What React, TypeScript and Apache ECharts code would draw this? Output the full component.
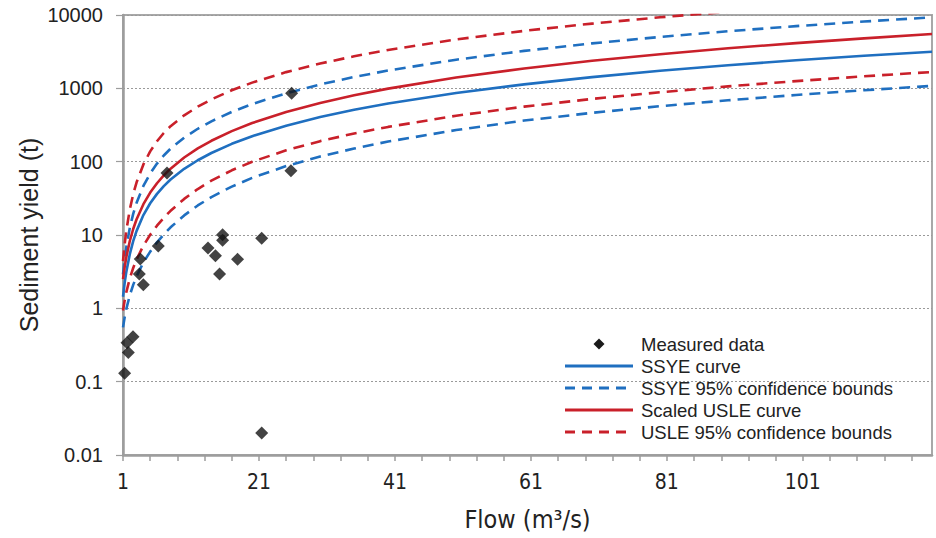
import React, { useEffect, useRef } from "react";
import * as echarts from "echarts";

// Measured data (flow m3/s, sediment yield t)
const MEASURED_FLOW = [1.24, 1.78, 1.59, 2.47, 3.4, 3.54, 3.99, 6.19, 7.47, 13.5, 14.6, 15.2, 15.65, 15.65, 17.85, 21.4, 21.4, 25.7, 25.8];
const MEASURED_YIELD = [0.13, 0.25, 0.34, 0.41, 2.94, 4.7, 2.1, 7.1, 70, 6.65, 5.2, 2.94, 10.1, 8.5, 4.66, 9.0, 0.02, 75, 855];

// Curves read along flow
const CURVE_FLOW = [1, 1.25, 1.5, 2, 2.5, 3, 4, 5, 6, 7, 8, 10, 12, 14, 17, 20, 25, 30, 35, 40, 50, 60, 70, 80, 90, 100, 110, 120];
const SSYE = [1.44, 2.24, 3.19, 5.48, 8.23, 11.38, 18.68, 27.09, 36.38, 46.41, 57.05, 79.83, 104.6, 131.3, 175.1, 222.7, 309.8, 405.9, 509.9, 621.4, 864.5, 1132, 1422, 1733, 2063, 2412, 2776, 3158];
const SSYE_UPPER = [2.91, 4.73, 6.95, 12.51, 19.41, 27.49, 46.65, 69.08, 94.18, 121.5, 150.5, 212.9, 280.8, 355.0, 476.9, 610.5, 857.0, 1131, 1429, 1751, 2458, 3243, 4099, 5021, 6004, 7049, 8148, 9300];
const SSYE_LOWER = [0.55, 0.759, 0.989, 1.506, 2.09, 2.737, 4.215, 5.932, 7.93, 10.19, 12.72, 18.5, 25.27, 32.93, 45.73, 60.06, 87.0, 117.4, 151.1, 188.0, 270.0, 363.5, 463.1, 571, 687, 811, 941, 1079];
const USLE = [2.5, 3.69, 5.06, 8.28, 12.07, 16.37, 26.33, 37.86, 50.81, 65.02, 80.33, 114.0, 151.5, 192.7, 260.9, 336.1, 476.1, 632.7, 804.7, 991.1, 1404, 1866, 2373, 2922, 3512, 4140, 4803, 5501];
const USLE_UPPER = [4.39, 7.58, 11.65, 22.31, 35.99, 52.34, 91.7, 138.1, 190.0, 245.8, 304.7, 428.6, 561.6, 705.3, 940.2, 1196, 1664, 2179, 2737, 3336, 4641, 6077, 7636, 9304, 11075];
const USLE_LOWER = [0.933, 1.29, 1.68, 2.557, 3.551, 4.649, 7.158, 10.07, 13.41, 17.19, 21.39, 31.05, 42.33, 55.03, 76.25, 99.7, 142.8, 190.5, 242.2, 297.9, 423, 563, 717, 884, 1064, 1255, 1458, 1671];

const X_LABELS = [1, 21, 41, 61, 81, 101];
const X_TICKS = [1, 5, 9, 13, 17, 21, 25, 29, 33, 37, 41, 45, 49, 53, 57, 61, 65, 69, 73, 77, 81, 85, 89, 93, 97, 101, 105, 109, 113, 117];

const LEGEND_NAMES = ["Measured data", "SSYE curve", "SSYE 95% confidence bounds", "Scaled USLE curve", "USLE 95% confidence bounds"];
const Y_TITLE = "Sediment yield (t)";
const X_TITLE = "Flow (m³/s)";

const BLUE = "#1f6fc0";
const RED = "#c9202a";
const AXIS_GRAY = "#9d9d9d";
const NARROW = "'Liberation Sans Narrow', 'DejaVu Sans Condensed', sans-serif";
const SANS = "'Liberation Sans', Arial, sans-serif";

function pairs(xs: number[], ys: number[]) {
  return ys.map((y, i) => [xs[i], y]);
}

export default function App() {
  const ref = useRef<HTMLDivElement>(null);
  useEffect(() => {
    if (!ref.current) return;
    const chart = echarts.init(ref.current, undefined, { renderer: "svg" });
    const DASH = [11, 7];
    const lineSeries = (name: string, ys: number[], color: string, dashed: boolean) => ({
      name,
      type: "line",
      data: pairs(CURVE_FLOW, ys),
      showSymbol: false,
      symbol: "none",
      smooth: false,
      clip: true,
      silent: true,
      lineStyle: { color, width: 2.6, type: dashed ? DASH : "solid", join: "round" },
      itemStyle: { color },
      z: 2,
    });

    // legend drawn as graphic
    const lx0 = 565;
    const lx1 = 633;
    const ltx = 641;
    const ly0 = 344;
    const lstep = 22;
    const legendStyles = [
      null,
      { color: BLUE, dashed: false },
      { color: BLUE, dashed: true },
      { color: RED, dashed: false },
      { color: RED, dashed: true },
    ];
    const legendEls: any[] = [];
    LEGEND_NAMES.forEach((name, i) => {
      const y = ly0 + i * lstep;
      const st = legendStyles[i];
      if (st) {
        legendEls.push({
          type: "line",
          shape: { x1: lx0, y1: y, x2: lx1, y2: y },
          style: { stroke: st.color, lineWidth: 2.8, lineDash: st.dashed ? [10, 7] : null },
          silent: true,
        });
      } else {
        const cx = 599;
        const r = 5.5;
        legendEls.push({
          type: "polygon",
          shape: { points: [[cx, y - r], [cx + r, y], [cx, y + r], [cx - r, y]] },
          style: { fill: "#1b1b1b" },
          silent: true,
        });
      }
      legendEls.push({
        type: "text",
        x: ltx,
        y,
        style: { text: name, fontFamily: SANS, fontSize: 18.5, fill: "#222", verticalAlign: "middle", align: "left" },
        silent: true,
      });
    });
    // y axis title
    legendEls.push({
      type: "text",
      x: 29,
      y: 235,
      rotation: Math.PI / 2,
      style: { text: Y_TITLE, fontFamily: SANS, fontSize: 25, fill: "#222", align: "center", verticalAlign: "middle" },
      silent: true,
    });

    chart.setOption({
      animation: false,
      backgroundColor: "#ffffff",
      grid: {
        left: 123,
        right: 4,
        top: 15,
        bottom: 83,
        show: true,
        borderColor: "#a8a8a8",
        borderWidth: 2,
        backgroundColor: "transparent",
      },
      graphic: legendEls,
      xAxis: {
        type: "value",
        min: 1,
        max: 120,
        name: X_TITLE,
        nameLocation: "middle",
        nameGap: 52,
        nameTextStyle: { fontFamily: NARROW, fontSize: 25, color: "#222" },
        axisLine: { show: true, lineStyle: { color: AXIS_GRAY, width: 2.5 } },
        axisTick: { show: true, customValues: X_TICKS, length: 6, lineStyle: { color: AXIS_GRAY, width: 1.5 } },
        axisLabel: { customValues: X_LABELS, fontFamily: NARROW, fontSize: 21, color: "#222", margin: 16 },
        splitLine: { show: false },
      },
      yAxis: {
        type: "log",
        logBase: 10,
        min: 0.01,
        max: 10000,
        axisLine: { show: true, lineStyle: { color: AXIS_GRAY, width: 2.5 } },
        axisTick: { show: true, length: 7, lineStyle: { color: AXIS_GRAY, width: 1.2 } },
        axisLabel: {
          fontFamily: SANS,
          fontSize: 20,
          color: "#222",
          margin: 20,
          formatter: (v: number) => String(Number(v.toPrecision(6))),
        },
        splitLine: { show: true, lineStyle: { color: "#9a9a9a", width: 1, type: [2, 2] } },
      },
      series: [
        {
          name: "Measured data",
          type: "scatter",
          data: pairs(MEASURED_FLOW, MEASURED_YIELD),
          symbol: "diamond",
          symbolSize: 13,
          itemStyle: { color: "#141414" },
          z: 5,
        },
        lineSeries("SSYE curve", SSYE, BLUE, false),
        lineSeries("SSYE 95% confidence bounds", SSYE_UPPER, BLUE, true),
        lineSeries("SSYE 95% confidence bounds", SSYE_LOWER, BLUE, true),
        lineSeries("Scaled USLE curve", USLE, RED, false),
        { ...lineSeries("USLE 95% confidence bounds", USLE_UPPER, RED, true), data: pairs(CURVE_FLOW.slice(0, USLE_UPPER.length), USLE_UPPER) },
        lineSeries("USLE 95% confidence bounds", USLE_LOWER, RED, true),
      ],
    });
    return () => chart.dispose();
  }, []);
  return <div ref={ref} style={{ width: 936, height: 538, position: "absolute", left: 0, top: 0 }} />;
}
